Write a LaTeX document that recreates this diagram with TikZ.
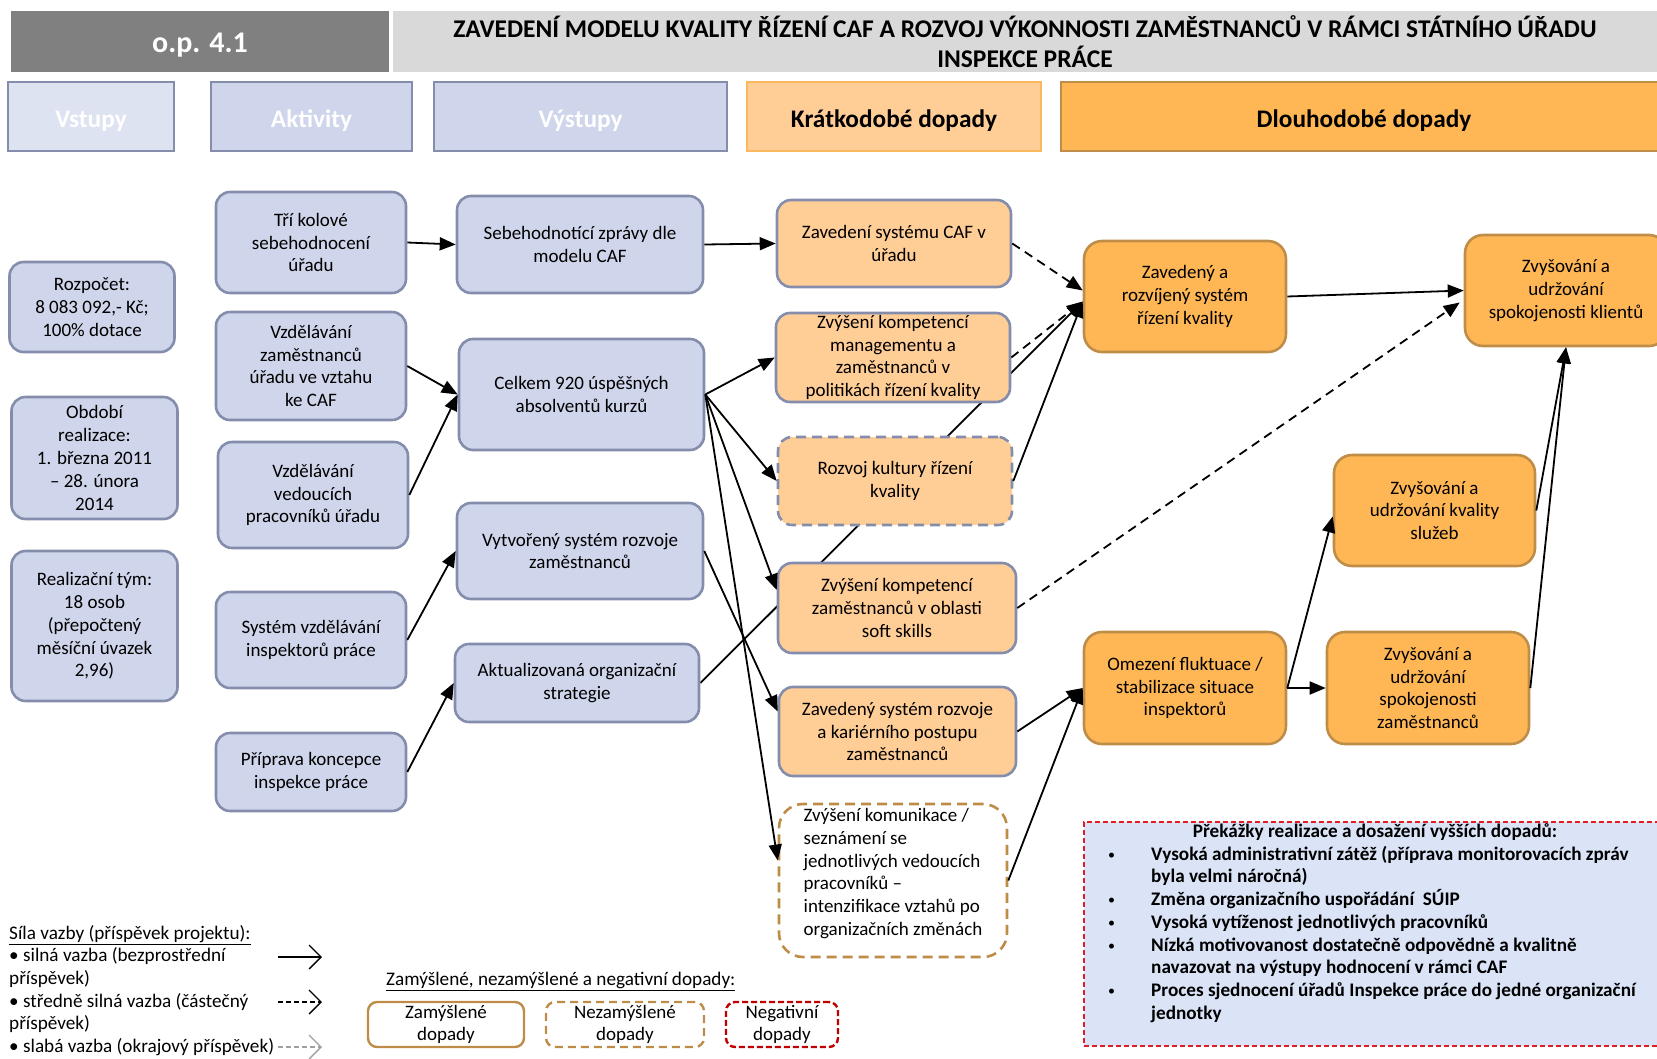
\documentclass[tikz,border=0pt]{standalone}
\usepackage{fontspec}
\setmainfont{Carlito}
\usetikzlibrary{arrows.meta,calc}
\pgfdeclarelayer{bg}
\pgfsetlayers{bg,main}
\definecolor{bfill}{RGB}{207,213,234}
\definecolor{bhfill}{RGB}{222,227,242}
\definecolor{bborder}{RGB}{132,142,172}
\definecolor{kfill}{RGB}{255,205,150}
\definecolor{khborder}{RGB}{250,185,95}
\definecolor{dfill}{RGB}{255,183,85}
\definecolor{dborder}{RGB}{192,141,72}
\definecolor{lbrown}{RGB}{190,140,70}
\definecolor{negred}{RGB}{192,0,0}
\definecolor{barfill}{RGB}{219,228,247}
\definecolor{barred}{RGB}{225,30,40}
\definecolor{opgray}{RGB}{128,128,128}
\definecolor{titlegray}{RGB}{217,217,217}
\definecolor{weakgray}{RGB}{160,160,160}
\tikzset{
  txt/.style={font=\fontsize{19}{22.8}\selectfont, align=center, inner sep=1pt},
  bluebox/.style={txt, rectangle, rounded corners=14pt, draw=bborder, fill=bfill, line width=2.6pt},
  kbox/.style={txt, rectangle, rounded corners=14pt, draw=bborder, fill=kfill, line width=2.6pt},
  dbox/.style={txt, rectangle, rounded corners=18pt, draw=dborder, fill=dfill, line width=2.6pt},
  hdr/.style={rectangle, line width=2.6pt, font=\fontsize{25.3}{28}\selectfont\bfseries, inner sep=0pt, text height=24pt, text depth=3pt},
  conn/.style={line width=1.8pt, -{Triangle[length=16pt,width=13pt]}},
  dconn/.style={conn, dash pattern=on 9pt off 6pt},
  legtxt/.style={font=\fontsize{19.2}{22.8}\selectfont, anchor=west, inner sep=0pt, text height=13pt, text depth=4pt},
  bartxt/.style={font=\fontsize{19.2}{22.8}\selectfont\bfseries, anchor=west, inner sep=0pt, text height=13pt, text depth=4pt},
  bulltxt/.style={font=\fontsize{14}{16}\selectfont, anchor=west, inner sep=0pt, text height=10pt, text depth=3pt},
  legarrow/.style={line width=1.3pt, -{Straight Barb[length=12pt,width=24pt]}},
}
\begin{document}
\begin{tikzpicture}[x=1pt,y=-1pt]
\useasboundingbox (0,0) rectangle (1657,1058);
% header
\node[rectangle, fill=opgray, minimum width=378, minimum height=61, font=\fontsize{30}{32}\selectfont\bfseries, text=white, text height=24pt, text depth=2pt] (op) at (200,41.5) {o.p. 4.1};
\node[rectangle, fill=titlegray, minimum width=1264, minimum height=61, font=\fontsize{25.5}{30}\selectfont\bfseries, align=center] (title) at (1025,41.5) {ZAVEDENÍ MODELU KVALITY ŘÍZENÍ CAF A ROZVOJ VÝKONNOSTI ZAMĚSTNANCŮ V RÁMCI STÁTNÍHO ÚŘADU\\INSPEKCE PRÁCE};
\node[hdr, draw=bborder, fill=bhfill, text=white, minimum width=166, minimum height=69] (hV) at (91,116.5) {Vstupy};
\node[hdr, draw=bborder, fill=bfill, text=white, minimum width=201, minimum height=69] (hA) at (311.5,116.5) {Aktivity};
\node[hdr, draw=bborder, fill=bfill, text=white, minimum width=293, minimum height=69] (hO) at (580.5,116.5) {Výstupy};
\node[hdr, draw=khborder, fill=kfill, minimum width=294, minimum height=69] (hK) at (894,116.5) {Krátkodobé dopady};
\node[hdr, draw=dborder, fill=dfill, minimum width=606, minimum height=69] (hD) at (1364,116.5) {Dlouhodobé dopady};
% inputs
\node[bluebox, minimum width=165, minimum height=90] (R) at (92,307) {Rozpočet:\\8 083 092,- Kč;\\100\% dotace};
\node[bluebox, minimum width=166, minimum height=122] (O) at (94.5,458) {Období\\realizace:\\1. března 2011\\– 28. února\\2014};
\node[bluebox, minimum width=166, minimum height=150] (T) at (94.5,626) {Realizační tým:\\18 osob\\(přepočtený\\měsíční úvazek\\2,96)};
% activities
\node[bluebox, minimum width=190, minimum height=101] (A1) at (311,242.5) {Tří kolové\\sebehodnocení\\úřadu};
\node[bluebox, minimum width=190, minimum height=108] (A2) at (311,366) {Vzdělávání\\zaměstnanců\\úřadu ve vztahu\\ke CAF};
\node[bluebox, minimum width=190, minimum height=106] (A3) at (313,495) {Vzdělávání\\vedoucích\\pracovníků úřadu};
\node[bluebox, minimum width=190, minimum height=96] (A4) at (311,640) {Systém vzdělávání\\inspektorů práce};
\node[bluebox, minimum width=190, minimum height=78] (A5) at (311,772) {Příprava koncepce\\inspekce práce};
% outputs
\node[bluebox, minimum width=246, minimum height=97] (V1) at (580,244.5) {Sebehodnotící zprávy dle\\modelu CAF};
\node[bluebox, minimum width=245, minimum height=111] (V2) at (581.5,394.5) {Celkem 920 úspěšných\\absolventů kurzů};
\node[bluebox, minimum width=246, minimum height=96] (V3) at (580,551) {Vytvořený systém rozvoje\\zaměstnanců};
\node[bluebox, minimum width=244, minimum height=78] (V4) at (577,683) {Aktualizovaná organizační\\strategie};
% short-term
\node[kbox, minimum width=234, minimum height=87] (K1) at (894,243.5) {Zavedení systému CAF v\\úřadu};
\node[kbox, minimum width=234, minimum height=89, inner sep=0pt] (K2) at (893,357.5) {Zvýšení kompetencí\\managementu a\\zaměstnanců v\\politikách řízení kvality};
\node[kbox, dash pattern=on 10pt off 6pt, minimum width=234, minimum height=88] (K3) at (895,481) {Rozvoj kultury řízení\\kvality};
\node[kbox, minimum width=238, minimum height=90] (K4) at (897,608) {Zvýšení kompetencí\\zaměstnanců v oblasti\\soft skills};
\node[kbox, minimum width=237, minimum height=89] (K5) at (897.5,731.5) {Zavedený systém rozvoje\\a kariérního postupu\\zaměstnanců};
\node[rectangle, rounded corners=24pt, draw=lbrown, fill=white, line width=2.6pt, dash pattern=on 10pt off 6pt, minimum width=228, minimum height=153,
  label={[txt, align=left, yshift=7pt]center:{Zvýšení komunikace /\\seznámení se\\jednotlivých vedoucích\\pracovníků –\\intenzifikace vztahů po\\organizačních změnách}}] (K6) at (893,880.5) {};
% long-term
\node[dbox, minimum width=202, minimum height=111] (D1) at (1185,296.5) {Zavedený a\\rozvíjený systém\\řízení kvality};
\node[dbox, minimum width=202, minimum height=111] (D2) at (1566,290.5) {Zvyšování a\\udržování\\spokojenosti klientů};
\node[dbox, minimum width=201, minimum height=111] (D3) at (1434.5,510.5) {Zvyšování a\\udržování kvality\\služeb};
\node[dbox, minimum width=202, minimum height=112] (D4) at (1185,688) {Omezení fluktuace /\\stabilizace situace\\inspektorů};
\node[dbox, minimum width=202, minimum height=112] (D5) at (1428,688) {Zvyšování a\\udržování\\spokojenosti\\zaměstnanců};
% connectors
\begin{pgfonlayer}{bg}
\draw[conn] (V4.east) -- ($(D1.west)+(0,5)$);
\end{pgfonlayer}
\draw[conn] (A1.east) -- (V1.west);
\draw[conn] (V1.east) -- (K1.west);
\draw[conn] (A2.east) -- (V2.west);
\draw[conn] (A3.east) -- (V2.west);
\draw[conn] (A4.east) -- (V3.west);
\draw[conn] (A5.east) -- (V4.west);
\draw[conn] (V2.east) -- (K2.west);
\draw[conn] (V2.east) -- (K3.west);
\draw[conn] (V2.east) -- ($(K4.west)+(0,-18)$);
\draw[conn] (V2.east) -- ($(K6.west)+(0,-20)$);
\draw[conn] (V3.east) -- ($(K5.west)+(0,-20)$);
\draw[dconn] (K1.east) -- ($(D1.west)+(0,-6)$);
\draw[dconn] (K2.east) -- ($(D1.west)+(0,5)$);
\draw[conn] (K3.east) -- ($(D1.west)+(0,5)$);
\draw[dconn] (K4.east) -- ($(D2.west)+(-4,12)$);
\draw[conn] (D1.east) -- (D2.west);
\draw[conn] (K5.east) -- (D4.west);
\draw[conn] (K6.east) -- (D4.west);
\draw[conn] (D4.east) -- (D5.west);
\draw[conn] (D4.east) -- ($(D3.west)+(0,6)$);
\draw[conn] (D3.east) -- (D2.south);
\draw[conn] (D5.east) -- (D2.south);
% barriers
\node[rectangle, fill=barfill, draw=barred, line width=1.4pt, dash pattern=on 5pt off 3pt, minimum width=584, minimum height=224] (bar) at (1376,934) {};
\node[bartxt, anchor=center] (bt) at (1375,833) {Překážky realizace a dosažení vyšších dopadů:};
\node[bulltxt] (b1) at (1108,856) {•};
\node[bulltxt] (b2) at (1108,901) {•};
\node[bulltxt] (b3) at (1108,924) {•};
\node[bulltxt] (b4) at (1108,947) {•};
\node[bulltxt] (b5) at (1108,992) {•};
\node[bartxt] (l1) at (1151,856) {Vysoká administrativní zátěž (příprava monitorovacích zpráv};
\node[bartxt] (l2) at (1151,878) {byla velmi náročná)};
\node[bartxt] (l3) at (1151,901) {Změna organizačního uspořádání \ SÚIP};
\node[bartxt] (l4) at (1151,924) {Vysoká vytíženost jednotlivých pracovníků};
\node[bartxt] (l5) at (1151,947) {Nízká motivovanost dostatečně odpovědně a kvalitně};
\node[bartxt] (l6) at (1151,969) {navazovat na výstupy hodnocení v rámci CAF};
\node[bartxt] (l7) at (1151,992) {Proces sjednocení úřadů Inspekce práce do jedné organizační};
\node[bartxt] (l8) at (1151,1015) {jednotky};
% legend: link strength
\node[legtxt] (g0) at (9,935) {\underline{Síla vazby (příspěvek projektu):}};
\node[legtxt] (g1) at (9,957) {• silná vazba (bezprostřední};
\node[legtxt] (g2) at (9,980) {příspěvek)};
\node[legtxt] (g3) at (9,1003) {• středně silná vazba (částečný};
\node[legtxt] (g4) at (9,1025) {příspěvek)};
\node[legtxt] (g5) at (9,1048) {• slabá vazba (okrajový příspěvek)};
\coordinate (s1a) at (278,957); \coordinate (s1b) at (322,957);
\coordinate (s2a) at (278,1002); \coordinate (s2b) at (322,1002);
\coordinate (s3a) at (278,1047); \coordinate (s3b) at (322,1047);
\draw[legarrow] (s1a) -- (s1b);
\draw[legarrow, dash pattern=on 5pt off 3pt] (s2a) -- (s2b);
\draw[legarrow, weakgray, dash pattern=on 5pt off 3pt] (s3a) -- (s3b);
% legend: impacts
\node[legtxt] (h0) at (386,981) {\underline{Zamýšlené, nezamýšlené a negativní dopady:}};
\node[txt, rectangle, rounded corners=9pt, draw=lbrown, line width=2.4pt, minimum width=156, minimum height=45, inner sep=0pt] (z1) at (446,1024.5) {Zamýšlené\\dopady};
\node[txt, rectangle, rounded corners=9pt, draw=lbrown, line width=2.4pt, dash pattern=on 8pt off 5pt, minimum width=158, minimum height=45, inner sep=0pt] (z2) at (625,1024.5) {Nezamýšlené\\dopady};
\node[txt, rectangle, rounded corners=9pt, draw=negred, line width=2.4pt, dash pattern=on 6pt off 3pt, minimum width=112, minimum height=45, inner sep=0pt] (z3) at (782,1024.5) {Negativní\\dopady};
\end{tikzpicture}
\end{document}
